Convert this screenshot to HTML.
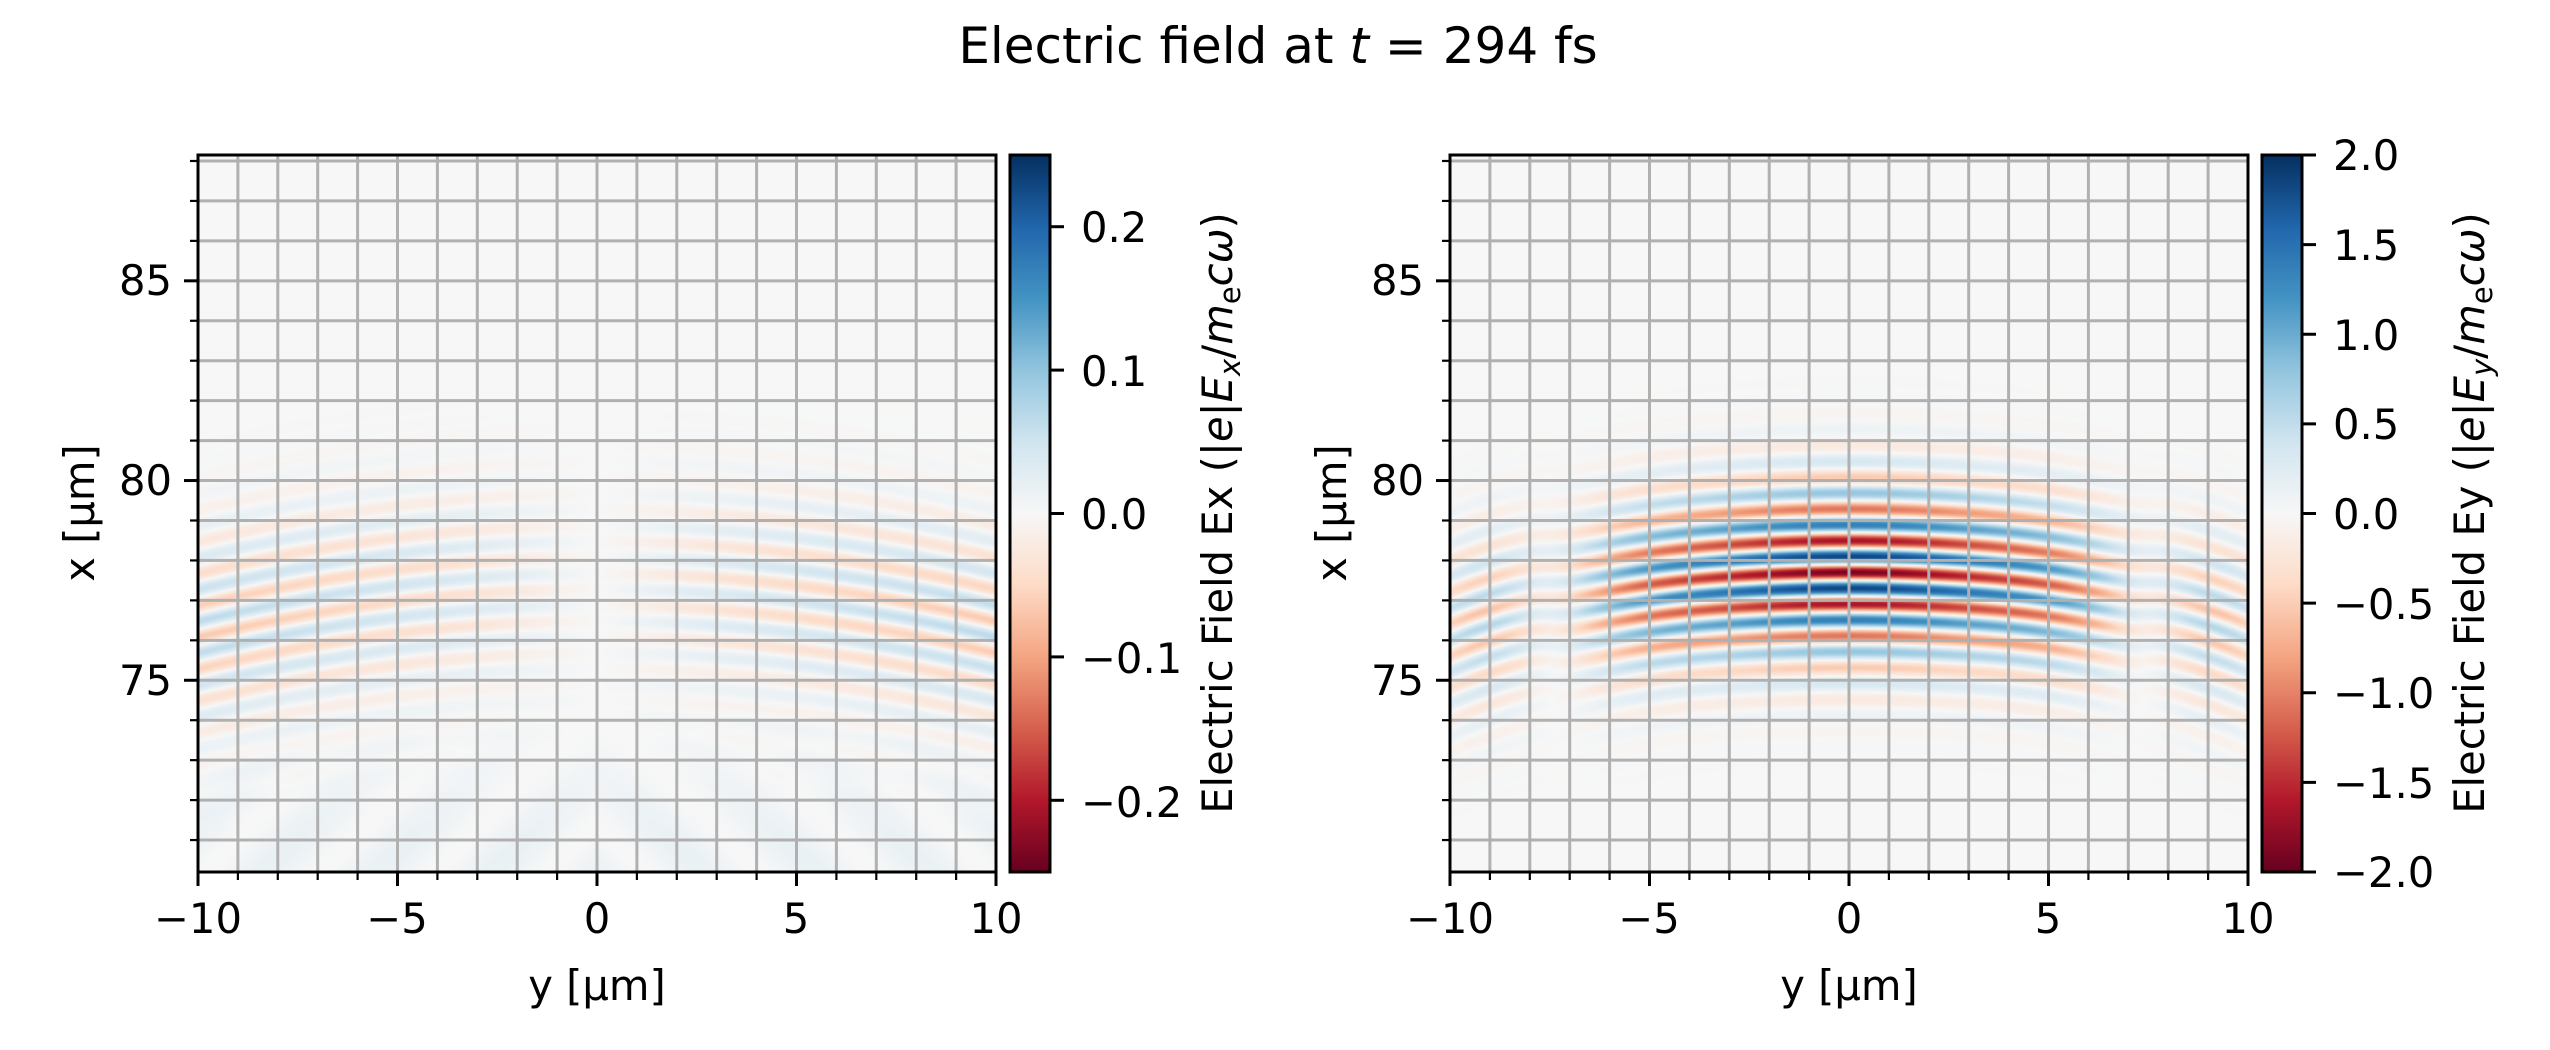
<!DOCTYPE html>
<html><head><meta charset="utf-8"><style>
html,body{margin:0;padding:0;background:#fff;width:2550px;height:1050px;overflow:hidden}
canvas{position:absolute}
svg{position:absolute;left:0;top:0}
text{font-family:"DejaVu Sans","Liberation Sans",sans-serif;fill:#000}
</style></head><body>
<canvas id="c1" width="798" height="717" style="left:198px;top:155px"></canvas>
<canvas id="c2" width="798" height="717" style="left:1450px;top:155px"></canvas>
<canvas id="b1" width="40" height="717" style="left:1010px;top:155px"></canvas>
<canvas id="b2" width="40" height="717" style="left:2262px;top:155px"></canvas>
<svg width="2550" height="1050" xmlns="http://www.w3.org/2000/svg">
<g id="grid"></g>
<text x="1278" y="63" font-size="50" text-anchor="middle">Electric field at <tspan font-style="italic">t</tspan> = 294 fs</text>
<g font-size="41.7">
<text x="172" y="295" text-anchor="end">85</text>
<text x="172" y="495" text-anchor="end">80</text>
<text x="172" y="695" text-anchor="end">75</text>
<text x="198" y="933" text-anchor="middle">−10</text>
<text x="397" y="933" text-anchor="middle">−5</text>
<text x="597" y="933" text-anchor="middle">0</text>
<text x="796" y="933" text-anchor="middle">5</text>
<text x="996" y="933" text-anchor="middle">10</text>
<text x="597" y="1000" text-anchor="middle">y [μm]</text>
<text transform="translate(94,513) rotate(-90)" text-anchor="middle">x [μm]</text>
<text x="1081" y="242">0.2</text>
<text x="1081" y="386">0.1</text>
<text x="1081" y="529">0.0</text>
<text x="1081" y="673">−0.1</text>
<text x="1081" y="817">−0.2</text>
<text transform="translate(1232,513) rotate(-90)" text-anchor="middle">Electric Field Ex (|<tspan font-style="italic">e</tspan>|<tspan font-style="italic">E</tspan><tspan font-style="italic" font-size="29" dy="8">x</tspan><tspan dy="-8">/</tspan><tspan font-style="italic">m</tspan><tspan font-size="29" dy="8">e</tspan><tspan font-style="italic" dy="-8">cω</tspan>)</text>
</g>
<g font-size="41.7">
<text x="1424" y="295" text-anchor="end">85</text>
<text x="1424" y="495" text-anchor="end">80</text>
<text x="1424" y="695" text-anchor="end">75</text>
<text x="1450" y="933" text-anchor="middle">−10</text>
<text x="1649" y="933" text-anchor="middle">−5</text>
<text x="1849" y="933" text-anchor="middle">0</text>
<text x="2048" y="933" text-anchor="middle">5</text>
<text x="2248" y="933" text-anchor="middle">10</text>
<text x="1849" y="1000" text-anchor="middle">y [μm]</text>
<text transform="translate(1346,513) rotate(-90)" text-anchor="middle">x [μm]</text>
<text x="2333" y="170">2.0</text>
<text x="2333" y="260">1.5</text>
<text x="2333" y="350">1.0</text>
<text x="2333" y="439">0.5</text>
<text x="2333" y="529">0.0</text>
<text x="2333" y="619">−0.5</text>
<text x="2333" y="708">−1.0</text>
<text x="2333" y="798">−1.5</text>
<text x="2333" y="887">−2.0</text>
<text transform="translate(2484,513) rotate(-90)" text-anchor="middle">Electric Field Ey (|<tspan font-style="italic">e</tspan>|<tspan font-style="italic">E</tspan><tspan font-style="italic" font-size="29" dy="8">y</tspan><tspan dy="-8">/</tspan><tspan font-style="italic">m</tspan><tspan font-size="29" dy="8">e</tspan><tspan font-style="italic" dy="-8">cω</tspan>)</text>
</g>
</svg>
<script>
var stops=['#67001f','#b2182b','#d6604d','#f4a582','#fddbc7','#f7f7f7','#d1e5f0','#92c5de','#4393c3','#2166ac','#053061'].map(function(h){return [parseInt(h.substr(1,2),16),parseInt(h.substr(3,2),16),parseInt(h.substr(5,2),16)];});
function cmap(t){t=Math.max(0,Math.min(1,t));var f=t*10,i=Math.min(9,Math.floor(f)),r=f-i;var a=stops[i],b=stops[i+1];return [a[0]+(b[0]-a[0])*r,a[1]+(b[1]-a[1])*r,a[2]+(b[2]-a[2])*r];}
var W=798,H=717,XMIN=70.2,XMAX=88.15;
function draw(id,f,vmax){var c=document.getElementById(id).getContext('2d');var im=c.createImageData(W,H);
for(var j=0;j<H;j++){var x=XMAX-(j+0.5)/H*(XMAX-XMIN);for(var i=0;i<W;i++){var y=-10+(i+0.5)/W*20;var v=f(x,y);var col=cmap(0.5+v/(2*vmax));var k=(j*W+i)*4;im.data[k]=col[0];im.data[k+1]=col[1];im.data[k+2]=col[2];im.data[k+3]=255;}}
c.putImageData(im,0,0);}
var k=2*Math.PI/0.8;
function Ey(x,y){var xs=x+0.012*y*y;var env=Math.exp(-Math.pow((xs-77.7)/2.1,2))*Math.exp(-Math.pow(y/6.5,2));var side=0.4*Math.exp(-Math.pow((xs-77.3)/2.3,2))*(1-Math.exp(-Math.pow(y/7,2)));return -1.9*env*Math.cos(k*(xs-77.7))+side*Math.cos(k*(x+0.02*y*y-77.0)+0.5*Math.abs(y));}
function Ex(x,y){var xs=x+0.012*y*y;var env=Math.exp(-Math.pow((xs-77.4)/2.4,2));var a=0.055*Math.tanh(y/2.5)*(0.6+0.6*Math.abs(y)/10);var low=0.009*Math.exp(-Math.pow((x-70.5)/2.5,2))*(1+Math.cos(2.2*(Math.abs(y)+x-70)));return a*env*Math.cos(k*(xs-77.4)+1.0)+low;}
draw('c1',Ex,0.25);draw('c2',Ey,2.0);
function bar(id){var c=document.getElementById(id).getContext('2d');for(var j=0;j<H;j++){var col=cmap(1-(j+0.5)/H);c.fillStyle='rgb('+col.map(Math.round).join(',')+')';c.fillRect(0,j,40,1);}}
bar('b1');bar('b2');
var g=document.getElementById('grid'),s='';
function ln(x1,y1,x2,y2,col,w){s+='<line x1="'+x1+'" y1="'+y1+'" x2="'+x2+'" y2="'+y2+'" stroke="'+col+'" stroke-width="'+w+'"/>';}
[198,1450].forEach(function(L){var R=L+798,T=155,B=872,pu=798/20,py=717/(XMAX-XMIN);
for(var v=-9;v<=9;v++){var X=L+(v+10)*pu;ln(X,T,X,B,'#b0b0b0',3);}
for(var v=71;v<=88;v++){var Y=T+(XMAX-v)*py;ln(L,Y,R,Y,'#b0b0b0',3);}
for(var v=-10;v<=10;v++){var X=L+(v+10)*pu;var maj=v%5==0;ln(X,B,X,B+(maj?14:8),'#000',maj?3:2.2);}
for(var v=71;v<=88;v++){var Y=T+(XMAX-v)*py;var maj=v%5==0;ln(L,Y,L-(maj?14:8),Y,'#000',maj?3:2.2);}
s+='<rect x="'+L+'" y="'+T+'" width="798" height="717" fill="none" stroke="#000" stroke-width="3"/>';
var cb=L+812;s+='<rect x="'+cb+'" y="'+T+'" width="40" height="717" fill="none" stroke="#000" stroke-width="3"/>';
var vals=L==198?[0.2,0.1,0,-0.1,-0.2]:[2,1.5,1,0.5,0,-0.5,-1,-1.5,-2];var vm=L==198?0.25:2;
vals.forEach(function(v){var Y=513.5-v/vm*358.5;ln(cb+40,Y,cb+54,Y,'#000',3);});});
g.innerHTML=s;
</script>
</body></html>
